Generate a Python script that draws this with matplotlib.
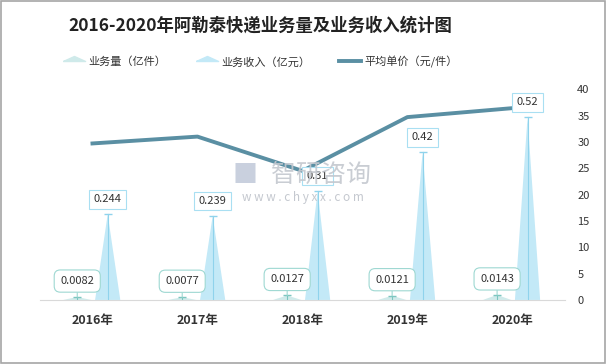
import numpy as np
import matplotlib
matplotlib.use('agg')
import matplotlib.pyplot as plt
from matplotlib.lines import Line2D
from matplotlib.patches import Rectangle

plt.rcParams['font.family'] = ['Noto Sans CJK SC', 'DejaVu Sans']

years = ['2016年', '2017年', '2018年', '2019年', '2020年']
volume = [0.0082, 0.0077, 0.0127, 0.0121, 0.0143]      # 业务量 (亿件)
revenue = [0.244, 0.239, 0.31, 0.42, 0.52]             # 业务收入 (亿元)
price = [29.7, 31.0, 24.5, 34.7, 36.4]                 # 平均单价 (元/件)
vol_labels = ['0.0082', '0.0077', '0.0127', '0.0121', '0.0143']
rev_labels = ['0.244', '0.239', '0.31', '0.42', '0.52']

vol_color = '#cfeaea'
rev_color = '#c3e9f7'
line_color = '#5a8fa3'

fig = plt.figure(figsize=(6.06, 3.64), dpi=100)
ax = fig.add_axes([0.066, 0.176, 0.866, 0.579])
ax2 = ax.twinx()

x = np.arange(len(years))
off = 0.145
vw = 0.27
rw = 0.24

# volume: flat wide triangles, revenue: tall spikes
for i in x:
    xv = i - off
    ax.fill([xv - vw / 2, xv, xv + vw / 2], [0, volume[i], 0], color=vol_color, lw=0, zorder=2)
    ax.plot([xv, xv], [0, volume[i]], color='#7cc6c0', lw=0.8, zorder=3)
    ax.plot([xv], [volume[i]], marker='_', ms=6, color='#7cc6c0', zorder=3)
    ax.annotate(vol_labels[i], xy=(xv, volume[i]), xytext=(0, 16), textcoords='offset pixels',
                ha='center', va='center', fontsize=8, color='#333333',
                bbox=dict(boxstyle='round,pad=0.55', fc='white', ec='#9ed8d2', lw=0.8),
                arrowprops=dict(arrowstyle='-', color='#9ed8d2', lw=0.8, shrinkA=0, shrinkB=0),
                zorder=6)

    xr = i + off
    ax.fill([xr - rw / 2, xr, xr + rw / 2], [0, revenue[i], 0], color=rev_color, lw=0, zorder=2)
    ax.plot([xr, xr], [0, revenue[i]], color='#8fd3ec', lw=0.8, zorder=3)
    ax.plot([xr], [revenue[i]], marker='_', ms=6, color='#8fd3ec', zorder=3)
    ax.annotate(rev_labels[i], xy=(xr, revenue[i]), xytext=(0, 15), textcoords='offset pixels',
                ha='center', va='center', fontsize=8, color='#333333',
                bbox=dict(boxstyle='square,pad=0.4', fc='white', ec='#a9dff2', lw=0.8),
                zorder=6)

ax.set_xlim(-0.5, len(years) - 0.5)
ax.set_ylim(0, 0.6)
ax.set_yticks([])
ax.set_xticks(x)
ax.set_xticklabels(years, fontsize=9, fontweight='bold', color='#333333')
ax.tick_params(axis='x', length=0, pad=10)
for s in ['top', 'right', 'left']:
    ax.spines[s].set_visible(False)
ax.spines['bottom'].set_color('#d9d9d9')

ax2.plot(x, price, color=line_color, lw=2.8, zorder=4)
ax2.set_ylim(0, 40)
ax2.set_yticks(range(0, 41, 5))
ax2.tick_params(axis='y', length=0, labelsize=8, labelcolor='#333333', pad=9)
for s in ['top', 'right', 'left', 'bottom']:
    ax2.spines[s].set_visible(False)
ax.set_zorder(ax2.get_zorder() + 1)
ax.patch.set_visible(False)

# watermark
fig.text(0.53, 0.52, '智研咨询', fontsize=18, color='#c4c8cf', ha='center', va='center', alpha=0.9)
fig.text(0.50, 0.458, 'w w w . c h y x x . c o m', fontsize=8.5, color='#c4c8cf', ha='center', va='center')
fig.text(0.405, 0.52, '■', fontsize=18, color='#c9d0de', ha='center', va='center')

fig.text(0.43, 0.93, '2016-2020年阿勒泰快递业务量及业务收入统计图', fontsize=12.5,
         fontweight='bold', color='#222222', ha='center', va='center')

tri = [(-1.0, 0.0), (1.0, 0.0), (0.0, 0.45), (-1.0, 0.0)]
handles = [
    Line2D([], [], ls='none', marker=tri, ms=16, color=vol_color),
    Line2D([], [], ls='none', marker=tri, ms=16, color=rev_color),
    Line2D([], [], color=line_color, lw=2.8),
]
fig.legend(handles, ['业务量（亿件）', '业务收入（亿元）', '平均单价（元/件）'],
           loc='center', bbox_to_anchor=(0.43, 0.83), ncol=3, frameon=False,
           fontsize=8, handlelength=2.0, handletextpad=0.3, columnspacing=2.6,
           labelcolor='#333333')

fig.add_artist(Rectangle((0.001, 0.002), 0.997, 0.995, transform=fig.transFigure,
                         fill=False, ec='#a6a6a6', lw=1.2))

fig.savefig('out.png', dpi=100)
